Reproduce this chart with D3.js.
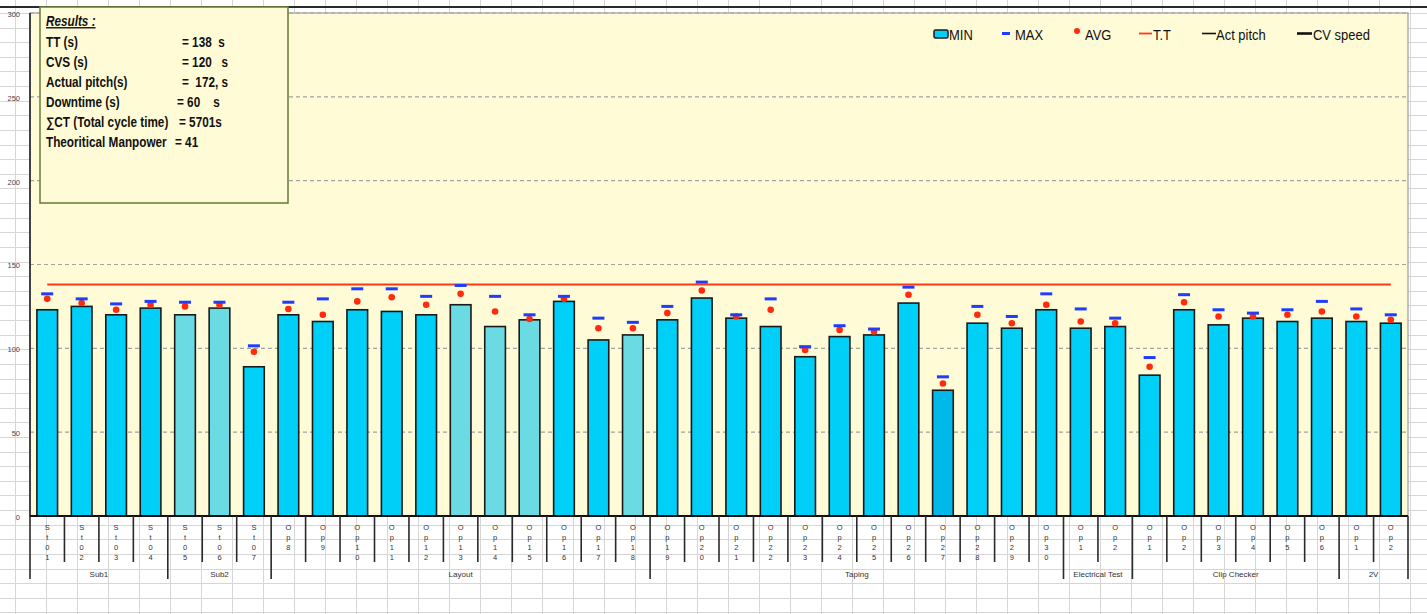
<!DOCTYPE html>
<html>
<head>
<meta charset="utf-8">
<script src="https://cdn.jsdelivr.net/npm/d3@7"></script>
<style>
  body { margin: 0; background: #fff; }
  svg text { white-space: pre; }
</style>
</head>
<body>
<div id="wrapper"></div>
<script>
// data
const categories = [
  "St01", "St02", "St03", "St04", "St05", "St06", "St07",
  "Op8", "Op9", "Op10", "Op11", "Op12", "Op13", "Op14", "Op15", "Op16", "Op17", "Op18",
  "Op19", "Op20", "Op21", "Op22", "Op23", "Op24", "Op25", "Op26", "Op27", "Op28", "Op29", "Op30",
  "Op1", "Op2",
  "Op1", "Op2", "Op3", "Op4", "Op5", "Op6",
  "Op1", "Op2"
]
const groupNames = ["Sub1", "Sub2", "Layout", "Taping", "Electrical Test", "Clip Checker", "2V"]
const groupSizes = [4, 3, 11, 12, 2, 6, 2]

const minVals = [
  123, 125, 120, 124, 120, 124, 89,
  120, 116, 123, 122, 120, 126, 113, 117, 128, 105, 108,
  117, 130, 118, 113, 95, 107, 108, 127, 75, 115, 112, 123,
  112, 113,
  84, 123, 114, 118, 116, 118,
  116, 115
]
const maxVals = [
  132.5, 129.5, 126.5, 128, 127.5, 127.5, 101.5,
  127.5, 129.5, 135.5, 135.5, 131, 137.5, 131, 120, 131, 118, 115.5,
  125, 139.5, 120, 129.5, 101, 113.5, 111.5, 136.5, 83, 125, 119, 132.5,
  123.5, 118,
  94.5, 132, 123, 121, 123, 128,
  123.5, 120
]
const avgVals = [
  129.5, 127, 123, 126, 125, 126, 98,
  123.5, 120, 128, 130.5, 126, 132.5, 122, 117.5, 129.5, 112, 112,
  121, 134.5, 119, 123, 99, 111, 110, 132, 79, 120, 115, 126,
  116, 115,
  89, 127.5, 119, 119, 120, 122,
  119, 117
]
// stations drawn in the lighter (teal) shade, and the one darker bar
const tealIndex = [4, 5, 12, 13, 14, 17]
const darkIndex = [26]

const taktTime = 138
const yTicks = [0, 50, 100, 150, 200, 250, 300]

const results = [
  ["TT (s)", "= 138  s"],
  ["CVS (s)", "= 120   s"],
  ["Actual pitch(s)", "=  172, s"],
  ["Downtime (s)", "= 60    s"],
  ["\u2211CT (Total cycle time)", "= 5701s"],
  ["Theoritical Manpower", "= 41"]
]
const resultValueX = [182, 182, 182, 177, 179, 175]

const legendItems = ["MIN", "MAX", "AVG", "T.T", "Act pitch", "CV speed"]

// dimensions
const width = 1427
const height = 614
const dimensions = {
  left: 30,
  right: 1408,
  top: 13,
  bottom: 516,
}
// no narrow font is installed, so narrow text is squeezed horizontally
const narrowBox = 0.84
const narrowLegend = 0.865

const svg = d3.select("#wrapper")
  .append("svg")
    .attr("width", width)
    .attr("height", height)
    .style("display", "block")

// spreadsheet grid behind everything
const sheet = svg.append("g").attr("stroke", "#d6d6d6").attr("stroke-width", 1)
sheet.selectAll(".col")
  .data(d3.range(15, width, 31))
  .join("line")
    .attr("x1", d => d + 0.5).attr("x2", d => d + 0.5)
    .attr("y1", 0).attr("y2", height)
sheet.selectAll(".row")
  .data(d3.range(13, height, 14.62))
  .join("line")
    .attr("x1", 0).attr("x2", width)
    .attr("y1", d => Math.round(d) + 0.5).attr("y2", d => Math.round(d) + 0.5)

// top heavy line
svg.append("rect")
  .attr("x", 0).attr("y", 6)
  .attr("width", width).attr("height", 2)
  .attr("fill", "#2a2a2a")

// scales
const xScale = d3.scaleBand()
  .domain(d3.range(categories.length))
  .range([dimensions.left, dimensions.right])
  .paddingInner(0.4)
  .paddingOuter(0.2)

const yScale = d3.scaleLinear()
  .domain([0, 300])
  .range([dimensions.bottom, dimensions.top])

const step = xScale.step()
const bw = xScale.bandwidth()
const cx = i => xScale(i) + bw / 2
const edge = i => dimensions.left + i * step

// plot background
svg.append("rect")
  .attr("x", dimensions.left)
  .attr("y", dimensions.top)
  .attr("width", dimensions.right - dimensions.left)
  .attr("height", dimensions.bottom - dimensions.top)
  .attr("fill", "#fffbd6")
  .attr("stroke", "#888")
  .attr("stroke-width", 1)

// dashed gridlines
svg.append("g")
  .selectAll("line")
  .data(yTicks.filter(d => d > 0))
  .join("line")
    .attr("x1", dimensions.left).attr("x2", dimensions.right)
    .attr("y1", d => yScale(d)).attr("y2", d => yScale(d))
    .attr("stroke", "#a3a3a3")
    .attr("stroke-width", 1.2)
    .attr("stroke-dasharray", "4,3")

// y axis line
svg.append("line")
  .attr("x1", dimensions.left).attr("x2", dimensions.left)
  .attr("y1", dimensions.top).attr("y2", dimensions.bottom)
  .attr("stroke", "#222")
  .attr("stroke-width", 1.6)

// y tick labels
svg.append("g")
  .selectAll("text")
  .data(yTicks)
  .join("text")
    .attr("x", 20)
    .attr("y", d => yScale(d) + 2)
    .attr("text-anchor", "end")
    .attr("dominant-baseline", "middle")
    .attr("font-family", "Liberation Sans")
    .attr("font-size", 7.5)
    .attr("fill", "#444")
    .text(d => d)

// results box
const box = svg.append("g")
box.append("rect")
  .attr("x", 40).attr("y", 7)
  .attr("width", 248).attr("height", 196)
  .attr("fill", "#fffbd6")
  .attr("stroke", "#6e8440")
  .attr("stroke-width", 1.6)

const boxText = box.append("g")
  .attr("transform", `scale(${narrowBox}, 1)`)
  .attr("font-family", "Liberation Sans")
  .attr("font-size", 14)
  .attr("font-weight", "bold")
  .attr("fill", "#111")
boxText.append("text")
  .attr("x", 46 / narrowBox).attr("y", 26)
  .attr("font-style", "italic")
  .attr("text-decoration", "underline")
  .text("Results :")
boxText.selectAll(".rlabel")
  .data(results)
  .join("text")
    .attr("class", "rlabel")
    .attr("x", 46 / narrowBox)
    .attr("y", (d, i) => 47 + i * 20)
    .text(d => d[0])
boxText.selectAll(".rvalue")
  .data(results)
  .join("text")
    .attr("class", "rvalue")
    .attr("x", (d, i) => resultValueX[i] / narrowBox)
    .attr("y", (d, i) => 47 + i * 20)
    .text(d => d[1])

// bars (MIN)
const barColor = i => tealIndex.includes(i) ? "#6adbe2"
  : darkIndex.includes(i) ? "#00b8ea" : "#00cff7"

svg.append("g")
  .selectAll("rect")
  .data(minVals)
  .join("rect")
    .attr("x", (d, i) => xScale(i))
    .attr("y", d => yScale(d))
    .attr("width", bw)
    .attr("height", d => yScale(0) - yScale(d))
    .attr("fill", (d, i) => barColor(i))
    .attr("stroke", "#1a1a1a")
    .attr("stroke-width", 1.6)

// T.T line
svg.append("line")
  .attr("x1", cx(0)).attr("x2", cx(categories.length - 1))
  .attr("y1", yScale(taktTime)).attr("y2", yScale(taktTime))
  .attr("stroke", "#ff3a1a")
  .attr("stroke-width", 2)

// AVG dots
svg.append("g")
  .selectAll("circle")
  .data(avgVals)
  .join("circle")
    .attr("cx", (d, i) => cx(i))
    .attr("cy", d => yScale(d))
    .attr("r", 3.3)
    .attr("fill", "#ff2a10")

// MAX dashes
svg.append("g")
  .selectAll("rect")
  .data(maxVals)
  .join("rect")
    .attr("x", (d, i) => cx(i) - 6)
    .attr("y", d => yScale(d) - 1.5)
    .attr("width", 12)
    .attr("height", 3)
    .attr("fill", "#1f3dff")

// x axis baseline
svg.append("line")
  .attr("x1", dimensions.left).attr("x2", dimensions.right)
  .attr("y1", dimensions.bottom).attr("y2", dimensions.bottom)
  .attr("stroke", "#111")
  .attr("stroke-width", 1.8)

// category boundaries and group boundaries
const groupEdges = [0]
groupSizes.forEach(n => groupEdges.push(groupEdges[groupEdges.length - 1] + n))

svg.append("g")
  .selectAll("line")
  .data(d3.range(categories.length + 1))
  .join("line")
    .attr("x1", i => edge(i)).attr("x2", i => edge(i))
    .attr("y1", dimensions.bottom)
    .attr("y2", i => groupEdges.includes(i) ? 579 : 562)
    .attr("stroke", "#2a2a2a")
    .attr("stroke-width", 1.6)

// stacked category labels
const catLabels = svg.append("g")
  .attr("font-family", "Liberation Sans")
  .attr("font-size", 7.5)
  .attr("fill", "#333")
  .attr("text-anchor", "middle")
categories.forEach((c, i) => {
  catLabels.selectAll(null)
    .data(c.split(""))
    .enter()
    .append("text")
      .attr("x", cx(i))
      .attr("y", (d, k) => 530 + k * 10)
      .text(d => d)
})

// group labels
svg.append("g")
  .selectAll("text")
  .data(groupNames)
  .join("text")
    .attr("x", (d, i) => (edge(groupEdges[i]) + edge(groupEdges[i + 1])) / 2)
    .attr("y", 577)
    .attr("text-anchor", "middle")
    .attr("font-family", "Liberation Sans")
    .attr("font-size", 8)
    .attr("fill", "#333")
    .text(d => d)

// legend
const legend = svg.append("g")
const legendX = [934, 1002, 1077, 1139, 1202, 1297]
const textX = [949, 1015, 1085, 1153, 1216, 1313]

legend.append("rect")
  .attr("x", legendX[0]).attr("y", 30)
  .attr("width", 14).attr("height", 8)
  .attr("rx", 1.5)
  .attr("fill", "#00cff7")
  .attr("stroke", "#1a1a1a")
  .attr("stroke-width", 1.5)
legend.append("rect")
  .attr("x", legendX[1]).attr("y", 32)
  .attr("width", 8).attr("height", 3)
  .attr("fill", "#1f3dff")
legend.append("circle")
  .attr("cx", legendX[2]).attr("cy", 31)
  .attr("r", 3)
  .attr("fill", "#ff2a10")
legend.append("line")
  .attr("x1", legendX[3]).attr("x2", legendX[3] + 13)
  .attr("y1", 33.5).attr("y2", 33.5)
  .attr("stroke", "#ff3a1a").attr("stroke-width", 1.8)
legend.append("line")
  .attr("x1", legendX[4]).attr("x2", legendX[4] + 14)
  .attr("y1", 33.5).attr("y2", 33.5)
  .attr("stroke", "#111").attr("stroke-width", 1.6)
legend.append("line")
  .attr("x1", legendX[5]).attr("x2", legendX[5] + 15)
  .attr("y1", 33.5).attr("y2", 33.5)
  .attr("stroke", "#111").attr("stroke-width", 2.6)
legend.append("g")
  .attr("transform", `scale(${narrowLegend}, 1)`)
  .attr("font-family", "Liberation Sans")
  .attr("font-size", 15)
  .attr("fill", "#111")
  .selectAll("text")
  .data(legendItems)
  .join("text")
    .attr("x", (d, i) => textX[i] / narrowLegend)
    .attr("y", 40)
    .text(d => d)
</script>
</body>
</html>
